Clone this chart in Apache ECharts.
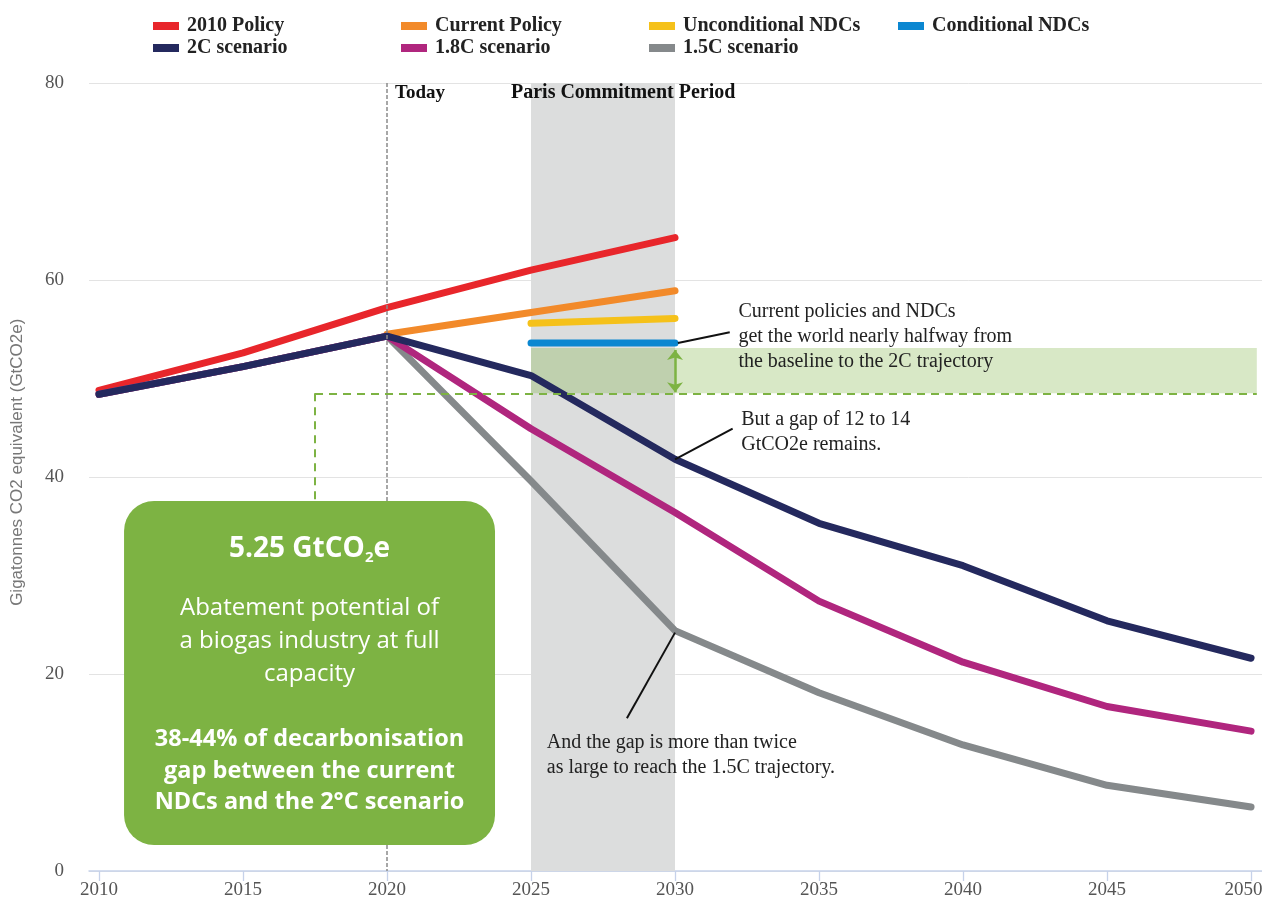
<!DOCTYPE html>
<html><head><meta charset="utf-8">
<script src="https://cdn.jsdelivr.net/npm/echarts/dist/echarts.min.js"></script>
<style>html,body{margin:0;padding:0;background:#fff;overflow:hidden}#c{width:1262px;height:905px}</style>
</head><body><div id="c"></div>
<script>
// ---- data ----
const xTicks = [2010, 2015, 2020, 2025, 2030, 2035, 2040, 2045, 2050];
const yTicks = [0, 20, 40, 60, 80];
const scenarioYears = [2010, 2015, 2020, 2025, 2030, 2035, 2040, 2045, 2050];
const policy2010Years = [2010, 2015, 2020, 2025, 2030];
const policy2010 = [48.8, 52.6, 57.2, 61.0, 64.3];
const currentPolicyYears = [2020, 2025, 2030];
const currentPolicy = [54.5, 56.7, 58.9];
const ndcYears = [2025, 2030];
const unconditionalNDCs = [55.6, 56.1];
const conditionalNDCs = [53.6, 53.6];
const scenario2C = [48.4, 51.2, 54.3, 50.3, 41.8, 35.3, 31.0, 25.4, 21.6];
const scenario18C = [48.4, 51.2, 54.3, 44.9, 36.4, 27.4, 21.2, 16.7, 14.2];
const scenario15C = [48.4, 51.2, 54.3, 39.6, 24.4, 18.1, 12.8, 8.7, 6.5];
const legendRow1 = ['2010 Policy', 'Current Policy', 'Unconditional NDCs', 'Conditional NDCs'];
const legendRow2 = ['2C scenario', '1.8C scenario', '1.5C scenario'];
const yAxisTitle = 'Gigatonnes CO2 equivalent (GtCO2e)';
const todayYear = 2020;
const parisPeriod = [2025, 2030];
const gapBand = [48.5, 53.1];
const gapLineStart = 2017.5;
const annCurrent = ['Current policies and NDCs', 'get the world nearly halfway from', 'the baseline to the 2C trajectory'];
const annGap = ['But a gap of 12 to 14', 'GtCO2e remains.'];
const annTwice = ['And the gap is more than twice', 'as large to reach the 1.5C trajectory.'];
const boxTitle = ['5.25 GtCO', '2', 'e'];
const boxBody = ['Abatement potential of', 'a biogas industry at full', 'capacity'];
const boxBold = ['38-44% of decarbonisation', 'gap between the current', 'NDCs and the 2°C scenario'];

const SERIF = '"Liberation Serif", "DejaVu Serif", serif';
const ROUND = '"Open Sans", Lato, sans-serif';
const GREEN = '#7db343';
const TICK = '#c6d2ea';

function pairs(xs, ys) { return xs.map((x, i) => [x, ys[i]]); }
function line(name, color, xs, ys, z) {
  return {
    type: 'line', name, z, data: pairs(xs, ys), showSymbol: false, symbol: 'none',
    silent: true, animation: false,
    lineStyle: { width: 7, color, cap: 'round', join: 'round' },
    itemStyle: { color }
  };
}
const chart = echarts.init(document.getElementById('c'), null, { renderer: 'canvas' });
const legendCols = [153, 401, 649, 898];
function legendItem(name, col, top) {
  return {
    selectedMode: false, orient: 'horizontal', left: legendCols[col], top, padding: 0,
    icon: 'rect', itemWidth: 26, itemHeight: 8, itemGap: 0, data: [name],
    textStyle: { fontFamily: SERIF, fontWeight: 'bold', fontSize: 20, color: '#222', padding: [0, 0, 0, 3] }
  };
}
const legends = [];
legendRow1.forEach((n, i) => legends.push(legendItem(n, i, 16)));
legendRow2.forEach((n, i) => legends.push(legendItem(n, i, 38)));
const blackLine = { color: '#111', width: 2, type: 'solid' };
const lastTick = xTicks[xTicks.length - 1];
const option = {
  animation: false,
  backgroundColor: '#fff',
  textStyle: { fontFamily: SERIF },
  legend: legends,
  grid: { left: 89, right: 0, top: 83, bottom: 34, containLabel: false, outerBoundsMode: 'none' },
  xAxis: {
    type: 'value', min: 2009.653, max: 2050.38,
    axisLine: { show: true, lineStyle: { color: TICK, width: 1.5 } },
    axisTick: { show: false },
    axisLabel: {
      customValues: xTicks, color: '#555', fontSize: 19, fontFamily: SERIF, margin: 10,
      formatter: v => (v === lastTick ? '{last|' + v + '}' : String(v)),
      rich: { last: { fontSize: 19, fontFamily: SERIF, color: '#555', padding: [0, 15, 0, 0] } }
    },
    splitLine: { show: false }
  },
  yAxis: {
    type: 'value', min: 0, max: 80, interval: 20,
    axisLine: { show: false }, axisTick: { show: false },
    axisLabel: { formatter: v => String(v), color: '#555', fontSize: 19, fontFamily: SERIF, margin: 25 },
    splitLine: { show: true, lineStyle: { color: '#e3e3e3', width: 1 } }
  },
  series: [
    { // Paris commitment band + Today line (background)
      type: 'line', data: [], z: 1, silent: true, clip: false,
      markArea: {
        silent: true, itemStyle: { color: '#dcdddd' }, label: { show: false },
        data: [[{ xAxis: parisPeriod[0], yAxis: 80 }, { xAxis: parisPeriod[1], yAxis: 0 }]]
      },
      markLine: {
        silent: true, symbol: 'none', label: { show: false },
        lineStyle: { color: '#8a8a8a', width: 1.5, type: [4, 2] },
        data: [[{ coord: [todayYear, 80] }, { coord: [todayYear, 0] }]]
      }
    },
    line('2010 Policy', '#e8262b', policy2010Years, policy2010, 3),
    line('Current Policy', '#f28a2a', currentPolicyYears, currentPolicy, 3),
    line('Unconditional NDCs', '#f5c11a', ndcYears, unconditionalNDCs, 3),
    line('Conditional NDCs', '#0b87d1', ndcYears, conditionalNDCs, 3),
    line('1.5C scenario', '#85898b', scenarioYears, scenario15C, 3),
    line('1.8C scenario', '#b0267e', scenarioYears, scenario18C, 3),
    line('2C scenario', '#24295e', scenarioYears, scenario2C, 4),
    { // gap band, dashed line, arrow, leader lines (foreground)
      type: 'line', data: [], z: 6, silent: true, clip: false,
      markArea: {
        silent: true, itemStyle: { color: 'rgba(125,179,67,0.30)' }, label: { show: false },
        data: [[{ coord: [parisPeriod[0], gapBand[1]] }, { coord: [2050.2, gapBand[0]] }]]
      },
      markLine: {
        silent: true, symbol: 'none', label: { show: false },
        data: [
          [{ coord: [gapLineStart, gapBand[0]], lineStyle: { color: GREEN, width: 2, type: [8, 6] } }, { coord: [2050.2, gapBand[0]] }],
          [{ coord: [gapLineStart, gapBand[0]], lineStyle: { color: GREEN, width: 2, type: [8, 6] } }, { coord: [gapLineStart, 37.6] }],
          [{ coord: [2030, gapBand[1] - 0.2], symbol: 'arrow', symbolSize: [12, 10], lineStyle: { color: GREEN, width: 2.5, type: 'solid' } },
           { coord: [2030, gapBand[0] + 0.1], symbol: 'arrow', symbolSize: [12, 10] }],
          [{ coord: [2030.1, 53.6], lineStyle: blackLine }, { coord: [2031.9, 54.7] }],
          [{ coord: [2030.0, 41.8], lineStyle: blackLine }, { coord: [2032.0, 44.9] }],
          [{ coord: [2030.0, 24.2], lineStyle: blackLine }, { coord: [2028.33, 15.5] }]
        ]
      }
    }
  ]
};
chart.setOption(option);

const p = (x, y) => chart.convertToPixel({ gridIndex: 0 }, [x, y]);
function txtBlock(lines, pos) {
  return {
    type: 'text', x: pos[0], y: pos[1], z: 50, silent: true,
    style: {
      text: lines.join('\n'), fill: '#222', font: '20px ' + SERIF, lineHeight: 25,
      textAlign: 'left', textVerticalAlign: 'top', verticalAlign: 'top'
    }
  };
}
const tl = p(todayYear, 80);
const parisC = p(2028.2, 80);
const a1 = p(2032.2, 58.07);
const a2 = p(2032.3, 47.1);
const a3 = p(2025.55, 14.3);
const yTitlePos = p(2009.653, 41.5);
const boxTL = p(2010.87, 37.57);
const boxBR = p(2023.75, 2.63);
const bw = boxBR[0] - boxTL[0], bh = boxBR[1] - boxTL[1];
const cx = boxTL[0] + bw / 2;
const white = '#ffffff';
const tickGraphics = xTicks.map(t => {
  const q = p(t, 0);
  const x = Math.round(q[0]) + 0.5;
  return { type: 'line', z: 40, silent: true, shape: { x1: x, y1: q[1], x2: x, y2: q[1] + 10 }, style: { stroke: TICK, lineWidth: 1.3 } };
});
const graphics = tickGraphics.concat([
  { type: 'text', x: yTitlePos[0] - 72, y: yTitlePos[1], rotation: Math.PI / 2, z: 50, silent: true,
    style: { text: yAxisTitle, fill: '#777', font: '17px "Liberation Sans", sans-serif', textAlign: 'center', textVerticalAlign: 'middle', verticalAlign: 'middle' } },
  { type: 'text', x: tl[0] + 8, y: tl[1] + 10, z: 50, silent: true,
    style: { text: 'Today', fill: '#111', font: 'bold 19px ' + SERIF, textAlign: 'left', textVerticalAlign: 'middle', verticalAlign: 'middle' } },
  { type: 'text', x: parisC[0], y: parisC[1] + 10, z: 50, silent: true,
    style: { text: 'Paris Commitment Period', fill: '#111', font: 'bold 20px ' + SERIF, textAlign: 'center', textVerticalAlign: 'middle', verticalAlign: 'middle' } },
  txtBlock(annCurrent, a1),
  txtBlock(annGap, a2),
  txtBlock(annTwice, a3),
  { type: 'rect', z: 60, silent: true, shape: { x: boxTL[0], y: boxTL[1], width: bw, height: bh, r: 30 }, style: { fill: GREEN } },
  { type: 'text', z: 61, silent: true, x: cx, y: boxTL[1] + 48,
    style: { text: '{t|' + boxTitle[0] + '}{s|' + boxTitle[1] + '}{t|' + boxTitle[2] + '}', textAlign: 'center', textVerticalAlign: 'middle', verticalAlign: 'middle', fill: white,
      rich: { t: { font: 'bold 28px ' + ROUND, fill: white, lineHeight: 32, verticalAlign: 'middle' },
              s: { font: 'bold 15px ' + ROUND, fill: white, lineHeight: 2, verticalAlign: 'bottom' } } } },
  { type: 'text', z: 61, silent: true, x: cx, y: boxTL[1] + 91,
    style: { text: boxBody.join('\n'), fill: white, font: '24px ' + ROUND, lineHeight: 33,
      textAlign: 'center', textVerticalAlign: 'top', verticalAlign: 'top' } },
  { type: 'text', z: 61, silent: true, x: cx, y: boxTL[1] + 223,
    style: { text: boxBold.join('\n'), fill: white, font: 'bold 23.5px ' + ROUND, lineHeight: 31.5,
      textAlign: 'center', textVerticalAlign: 'top', verticalAlign: 'top' } }
]);
chart.setOption({ graphic: graphics });
</script>
</body></html>
